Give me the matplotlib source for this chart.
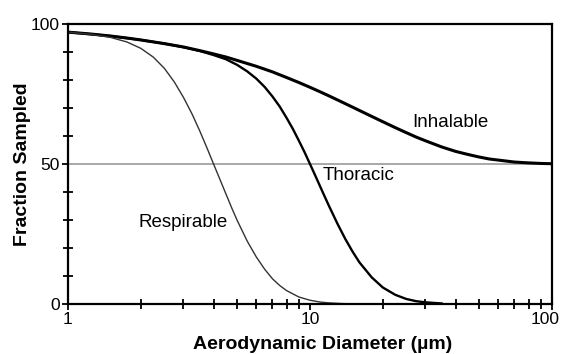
import matplotlib
matplotlib.use("Agg")
import matplotlib.pyplot as plt
import matplotlib.transforms as mtransforms
from matplotlib.ticker import FixedLocator, NullFormatter

plt.rcParams['font.family'] = ['Liberation Sans', 'DejaVu Sans']

# values (aerodynamic diameter in um, % sampled)
d_inh = [1, 1.25, 1.5, 1.75, 2, 2.5, 3, 3.5, 4, 4.5, 5, 5.5, 6, 7, 8, 9, 10, 11, 12, 13.5, 15,
         17.5, 20, 22.5, 25, 27.5, 30, 35, 40, 45, 50, 55, 60, 70, 80, 90, 100]
inhalable = [97.1, 96.4, 95.7, 95.0, 94.3, 93.0, 91.8, 90.5, 89.3, 88.2, 87.0, 85.9, 84.9, 82.9,
             80.9, 79.1, 77.4, 75.8, 74.3, 72.2, 70.3, 67.5, 65.1, 63.0, 61.2, 59.6, 58.3, 56.1,
             54.5, 53.4, 52.5, 51.8, 51.4, 50.7, 50.4, 50.2, 50.1]

d_tho = [1, 1.5, 2, 2.5, 3, 3.5, 4, 4.5, 5, 5.5, 6, 6.5, 7, 7.5, 8, 8.5, 9, 9.5, 10, 10.5, 11,
         11.5, 12, 12.5, 13, 14, 15, 16, 18, 20, 22.5, 25, 27.5, 30, 35]
thoracic = [97.1, 95.7, 94.3, 93.0, 91.7, 90.4, 88.9, 87.4, 85.4, 83.1, 80.5, 77.5, 74.1, 70.5,
            66.5, 62.5, 58.3, 54.2, 50.0, 46.0, 42.1, 38.4, 34.9, 31.7, 28.6, 23.2, 18.7, 14.9,
            9.5, 5.9, 3.3, 1.8, 1.0, 0.6, 0.2]

d_resp = [1, 1.25, 1.5, 1.75, 2, 2.25, 2.5, 2.75, 3, 3.25, 3.5, 3.75, 4, 4.25, 4.5, 4.75, 5,
          5.5, 6, 6.5, 7, 7.5, 8, 9, 10, 11, 12, 13.5, 15]
respirable = [97.1, 96.3, 95.2, 93.6, 91.3, 88.2, 84.2, 79.3, 73.8, 68.0, 61.9, 55.8, 49.9, 44.4,
              39.2, 34.3, 29.9, 22.5, 16.8, 12.4, 9.0, 6.6, 4.8, 2.5, 1.35, 0.7, 0.4, 0.16, 0.07]

fig = plt.figure(figsize=(5.61, 3.54), dpi=100)
ax = fig.add_axes([0.1212, 0.1412, 0.8627, 0.791])

ax.axhline(50, color="#999999", lw=1.2, zorder=1)
ax.plot(d_inh, inhalable, color="black", lw=2.2)
ax.plot(d_tho, thoracic, color="black", lw=1.7)
ax.plot(d_resp, respirable, color="#333333", lw=1.0)

ax.set_xscale("log")
ax.set_xlim(1, 100)
ax.set_ylim(0, 100)

ax.xaxis.set_major_locator(FixedLocator([1, 10, 100]))
ax.xaxis.set_minor_locator(FixedLocator([2, 3, 4, 5, 6, 7, 8, 9, 20, 30, 40, 50, 60, 70, 80, 90]))
ax.xaxis.set_minor_formatter(NullFormatter())
ax.set_xticklabels(["1", "10", "100"])
ax.yaxis.set_major_locator(FixedLocator([0, 50, 100]))
ax.yaxis.set_minor_locator(FixedLocator([10, 20, 30, 40, 60, 70, 80, 90]))

ax.tick_params(axis='both', which='major', direction='out', length=4, width=1.3, labelsize=12.5, pad=2)
ax.tick_params(axis='both', which='minor', direction='inout', length=7, width=1.3)
# the ticks past 10 look bluish in the original
for t in ax.xaxis.get_minor_ticks()[8:]:
    t.tick1line.set_color("#2a2a8a")
for s in ax.spines.values():
    s.set_linewidth(1.6)

# keep the "100" label inside the picture
lbl = ax.get_xticklabels()[-1]
lbl.set_horizontalalignment("right")
lbl.set_transform(lbl.get_transform() + mtransforms.ScaledTranslation(8 / 100, 0, fig.dpi_scale_trans))

ax.set_xlabel("Aerodynamic Diameter (µm)", fontsize=14, fontweight="bold", labelpad=6)
ax.xaxis.label.set_x(0.527)
ax.set_ylabel("Fraction Sampled", fontsize=14, fontweight="bold", labelpad=0)

ax.text(26.4, 65, "Inhalable", fontsize=13.5, va="center", ha="left")
ax.text(11.3, 46, "Thoracic", fontsize=13.5, va="center", ha="left")
ax.text(1.965, 29, "Respirable", fontsize=13.5, va="center", ha="left")

fig.savefig("out.png", dpi=100)
